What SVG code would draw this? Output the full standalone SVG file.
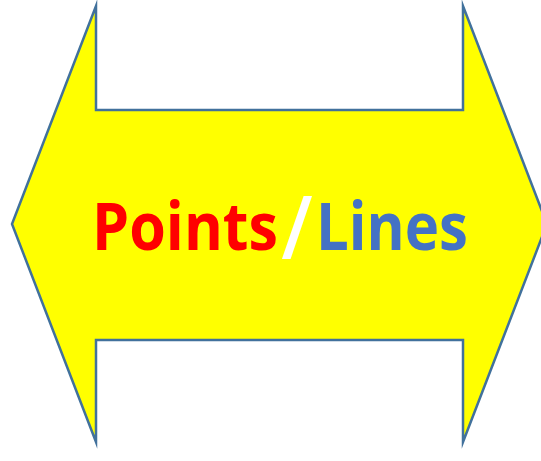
<svg xmlns="http://www.w3.org/2000/svg" width="541" height="461" viewBox="0 0 541 461">
  <style>
    .arrow { fill: #FFFF00; stroke: #41719C; stroke-width: 2.5; stroke-linejoin: miter; stroke-miterlimit: 10; }
    .lbl { font-family: "Open Sans", Lato, "Liberation Sans", sans-serif; font-weight: bold; font-size: 67px; }
  </style>
  <rect width="541" height="461" fill="#FFFFFF"/>
  <g id="double-arrow">
    <polygon class="arrow" points="96,6 96,110 463,110 463,6 547,224 463,442 463,340 96,340 96,442 12,224"/>
  </g>
  <g id="label">
    <text class="lbl" x="92" y="250" fill="#FF0000" textLength="186" lengthAdjust="spacingAndGlyphs">Points</text>
    <text x="282" y="258" fill="#FFFFFF" font-family="'Liberation Sans', Arial, sans-serif" font-weight="normal" font-size="86" textLength="30" lengthAdjust="spacingAndGlyphs">/</text>
    <text class="lbl" x="316" y="250" fill="#4472C4" textLength="152" lengthAdjust="spacingAndGlyphs">Lines</text>
  </g>
</svg>
